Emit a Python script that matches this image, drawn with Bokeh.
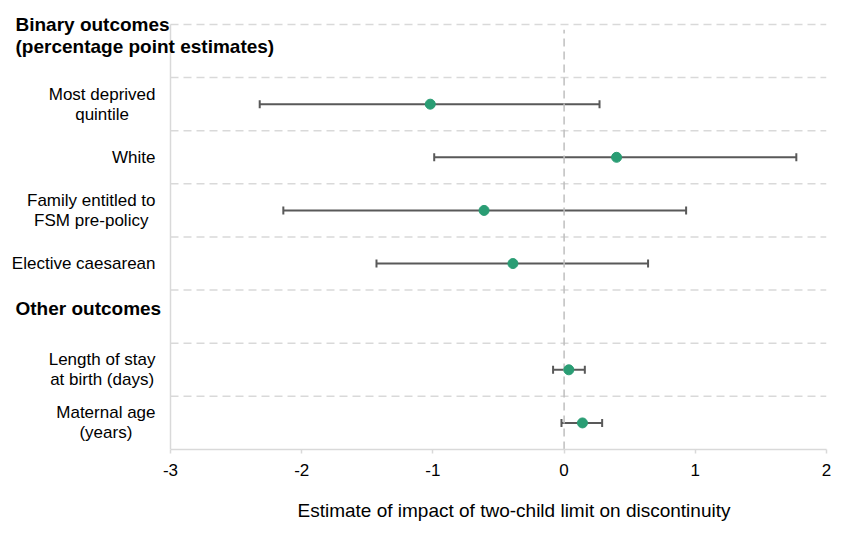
from bokeh.plotting import figure
from bokeh.models import ColumnDataSource, Whisker, TeeHead, Title, FixedTicker
from bokeh.core.properties import value
from bokeh.embed import file_html
from bokeh.resources import INLINE

# Data (rows top to bottom)
headers = ["Binary outcomes\n(percentage point estimates)", "Other outcomes"]
header_rows = [0, 5]
labels = ["Most deprived\nquintile", "White", "Family entitled to\nFSM pre-policy",
          "Elective caesarean", "Length of stay\nat birth (days)", "Maternal age\n(years)"]
label_rows = [1, 2, 3, 4, 6, 7]
estimate = [-1.02, 0.40, -0.61, -0.39, 0.036, 0.14]
lower = [-2.32, -0.99, -2.14, -1.43, -0.084, -0.02]
upper = [0.27, 1.77, 0.93, 0.64, 0.158, 0.29]
x_ticks = [-3, -2, -1, 0, 1, 2]
x_tick_labels = ["-3", "-2", "-1", "0", "1", "2"]
n_rows = 8

FONT = "Liberation Sans"
GRID = "#d9d9d9"
LABEL_PX = 17

# Arial / Liberation Sans advance widths (per 1000 em), for centring wrapped labels
ARIAL = {" ": 278, "(": 333, ")": 333, "-": 333,
         "a": 556, "b": 556, "c": 500, "d": 556, "e": 556, "f": 278, "g": 556, "h": 556,
         "i": 222, "j": 222, "k": 500, "l": 222, "m": 833, "n": 556, "o": 556, "p": 556,
         "q": 556, "r": 333, "s": 500, "t": 278, "u": 556, "v": 500, "w": 722, "x": 500,
         "y": 500, "z": 500, "E": 667, "F": 611, "L": 556, "M": 833, "S": 667, "W": 944}


def text_width(s, size):
    return max(sum(ARIAL.get(c, 556) for c in line) for line in s.split("\n")) * size / 1000.0


# layout geometry (pixels)
W, H = 848, 559
axis_left_px, frame_right_px = 170, 826
frame_bottom_px = 449
label_right_px = 155
unit = (frame_right_px - axis_left_px) / (x_ticks[-1] - x_ticks[0])
x_start = x_ticks[0] - axis_left_px / unit
row_px = 53.16
top_pad = 24 / row_px

ys = [n_rows - r - 0.5 for r in label_rows]
src = ColumnDataSource(dict(y=ys, est=estimate, lo=lower, hi=upper))

p = figure(width=W, height=H, output_backend="svg", toolbar_location=None,
           x_range=(x_start, x_ticks[-1]), y_range=(0, n_rows + top_pad),
           min_border_left=0, min_border_right=W - frame_right_px,
           min_border_top=0, min_border_bottom=H - frame_bottom_px)
p.outline_line_color = None
p.xgrid.grid_line_color = None
p.ygrid.grid_line_color = None
p.yaxis.visible = False

p.xaxis.ticker = FixedTicker(ticks=x_ticks)
p.xaxis.major_label_overrides = dict(zip(x_ticks, x_tick_labels))
p.xaxis.bounds = (x_ticks[0], x_ticks[-1])
p.xaxis.axis_line_color = GRID
p.xaxis.axis_line_width = 1.5
p.xaxis.major_tick_line_color = GRID
p.xaxis.major_tick_line_width = 1.5
p.xaxis.major_tick_out = 4
p.xaxis.major_tick_in = 0
p.xaxis.minor_tick_line_color = None
p.xaxis.major_label_text_font = FONT
p.xaxis.major_label_text_font_size = "17px"
p.xaxis.major_label_text_color = "#000000"
p.xaxis.major_label_standoff = 10

p.add_layout(Title(text="Estimate of impact of two-child limit on discontinuity",
                   align="left", offset=297, standoff=38, text_font=FONT,
                   text_font_size="19px", text_font_style="normal",
                   text_color="#000000"), "below")

# row separators, left axis line, zero line
bounds_y = list(range(1, n_rows + 1))
p.segment(x0=[x_ticks[0]] * len(bounds_y), x1=[x_ticks[-1]] * len(bounds_y),
          y0=bounds_y, y1=bounds_y, line_color=GRID, line_dash="8 5", line_width=1.5)
p.segment(x0=[x_ticks[0]], x1=[x_ticks[0]], y0=[0], y1=[n_rows],
          line_color=GRID, line_width=1.5)
p.segment(x0=[0], x1=[0], y0=[0], y1=[n_rows - 0.1],
          line_color="#bfbfbf", line_dash="8 5", line_width=1.5)

p.add_layout(Whisker(source=src, base="y", lower="lo", upper="hi", dimension="width",
                     line_color="#595959", line_width=2,
                     lower_head=TeeHead(size=8, line_color="#595959", line_width=2),
                     upper_head=TeeHead(size=8, line_color="#595959", line_width=2)))
p.scatter("est", "y", source=src, size=10, fill_color="#2a9d74", line_color="#2a9d74")

# category labels: block right-aligned, lines centred within the block
lab_x = [x_ticks[0] - (axis_left_px - label_right_px + text_width(t, LABEL_PX) / 2) / unit
         for t in labels]
lab_src = ColumnDataSource(dict(x=lab_x, y=ys, t=labels))
p.text("x", "y", text="t", source=lab_src, text_align="center", text_baseline="middle",
       text_font=value(FONT), text_font_size=f"{LABEL_PX}px", text_color="#000000",
       text_line_height=1.05)

hy = [n_rows - header_rows[0] - 0.5 + 16 / row_px, n_rows - header_rows[1] - 0.5 + 8 / row_px]
hdr_src = ColumnDataSource(dict(x=[x_ticks[0] - (axis_left_px - 15) / unit] * 2, y=hy, t=headers))
p.text("x", "y", text="t", source=hdr_src, text_align="left", text_baseline="middle",
       text_font=value(FONT), text_font_size="19px", text_font_style="bold",
       text_color="#000000", text_line_height=1.05)

open("out.html", "w").write(file_html(p, INLINE))
